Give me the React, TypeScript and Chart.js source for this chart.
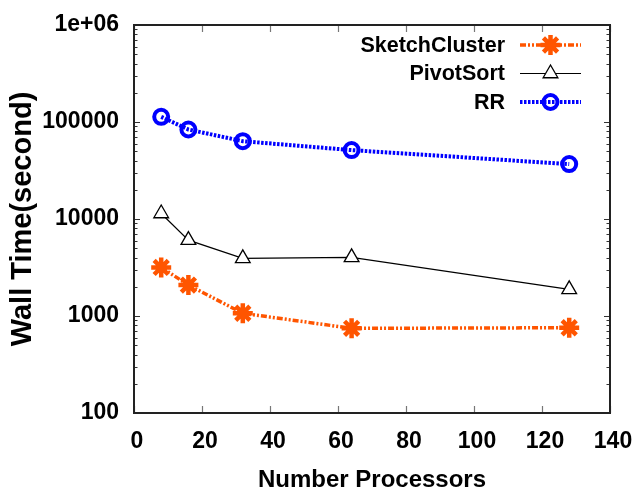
import React, { useEffect, useRef } from 'react';
import { Chart, registerables } from 'chart.js';
import { drawPoint } from 'chart.js/helpers';

Chart.register(...registerables);

const FONT = "'Liberation Sans', Arial, sans-serif";

const processors = [8, 16, 32, 64, 128];
const sketchCluster = [3170, 2085, 1067, 746, 757];
const pivotSort = [11400, 6060, 3930, 4020, 1880];
const rr = [113000, 83700, 63400, 51300, 36800];
const seriesLabels = ['SketchCluster', 'PivotSort', 'RR'];
const yTickValues = [100, 1000, 10000, 100000, 1000000];
const yTickLabels = ['100', '1000', '10000', '100000', '1e+06'];
const xTickValues = [0, 20, 40, 60, 80, 100, 120, 140];
const xTitle = 'Number Processors';
const yTitle = 'Wall Time(second)';

const framePlugin = {
  id: 'frame',
  beforeDatasetsDraw(chart: any) {
    const { ctx, chartArea: a, scales } = chart;
    const xs = scales.x;
    const ys = scales.y;
    ctx.save();
    ctx.strokeStyle = '#777';
    ctx.lineWidth = 1.2;
    for (const v of xTickValues) {
      const px = Math.round(xs.getPixelForValue(v)) + 0.5;
      ctx.beginPath();
      ctx.moveTo(px, a.bottom);
      ctx.lineTo(px, a.bottom - 7);
      ctx.moveTo(px, a.top);
      ctx.lineTo(px, a.top + 7);
      ctx.stroke();
    }
    ctx.strokeStyle = '#333';
    ctx.lineWidth = 1.2;
    const drawY = (v: number, len: number) => {
      const py = Math.round(ys.getPixelForValue(v)) + 0.5;
      ctx.beginPath();
      ctx.moveTo(a.left, py);
      ctx.lineTo(a.left + len, py);
      ctx.moveTo(a.right, py);
      ctx.lineTo(a.right - len, py);
      ctx.stroke();
    };
    yTickValues.forEach((base, i) => {
      drawY(base, 6);
      if (i < yTickValues.length - 1) {
        for (let m = 2; m <= 9; m++) drawY(base * m, 3.5);
      }
    });
    ctx.strokeStyle = '#222';
    ctx.lineWidth = 2;
    ctx.strokeRect(a.left, a.top, a.right - a.left, a.bottom - a.top);
    ctx.restore();
  },
};

const legendPlugin = {
  id: 'customLegend',
  afterDatasetsDraw(chart: any) {
    const { ctx, chartArea: a } = chart;
    ctx.save();
    chart.data.datasets.forEach((ds: any, i: number) => {
      const y = a.top + 20 + i * 28.5;
      const textRight = a.right - 105;
      const x0 = a.right - 90;
      const x1 = a.right - 29;
      ctx.font = `bold 21.5px ${FONT}`;
      ctx.fillStyle = '#000';
      ctx.textAlign = 'right';
      ctx.textBaseline = 'middle';
      ctx.fillText(ds.label, textRight, y + 1);
      ctx.strokeStyle = ds.borderColor;
      ctx.lineWidth = ds.borderWidth;
      ctx.setLineDash(ds.borderDash || []);
      ctx.beginPath();
      ctx.moveTo(x0, y);
      ctx.lineTo(x1, y);
      ctx.stroke();
      ctx.setLineDash([]);
      ctx.fillStyle = ds.pointBackgroundColor;
      ctx.strokeStyle = ds.pointBorderColor;
      ctx.lineWidth = ds.pointBorderWidth;
      drawPoint(ctx, { pointStyle: ds.pointStyle, radius: ds.pointRadius, rotation: 0, borderWidth: ds.pointBorderWidth }, (x0 + x1) / 2, y);
    });
    ctx.restore();
  },
};

export default function App() {
  const ref = useRef<HTMLCanvasElement>(null);
  useEffect(() => {
    if (!ref.current) return;
    Chart.defaults.font.family = FONT;
    const chart = new Chart(ref.current, {
      type: 'line',
      data: {
        datasets: [
          {
            label: seriesLabels[0],
            data: processors.map((p, i) => ({ x: p, y: sketchCluster[i] })),
            borderColor: '#ff5500',
            borderWidth: 3.5,
            borderDash: [6, 2, 2, 2, 2, 2],
            pointStyle: 'star',
            pointRadius: 10,
            pointBorderWidth: 4.5,
            pointBorderColor: '#ff5500',
            pointBackgroundColor: '#ff5500',
            fill: false,
            tension: 0,
          },
          {
            label: seriesLabels[1],
            data: processors.map((p, i) => ({ x: p, y: pivotSort[i] })),
            borderColor: '#000',
            borderWidth: 1.2,
            pointStyle: 'triangle',
            pointRadius: 8.5,
            pointBorderWidth: 1.3,
            pointBorderColor: '#000',
            pointBackgroundColor: '#fff',
            fill: false,
            tension: 0,
          },
          {
            label: seriesLabels[2],
            data: processors.map((p, i) => ({ x: p, y: rr[i] })),
            borderColor: '#0000ff',
            borderWidth: 4,
            borderDash: [2.5, 1.5],
            pointStyle: 'circle',
            pointRadius: 7,
            pointBorderWidth: 4,
            pointBorderColor: '#0000ff',
            pointBackgroundColor: 'rgba(0,0,0,0)',
            fill: false,
            tension: 0,
          },
        ],
      } as any,
      options: {
        animation: false,
        responsive: false,
        devicePixelRatio: 1,
        layout: { padding: { left: 0, top: 25, right: 26, bottom: 0 } },
        plugins: { legend: { display: false }, tooltip: { enabled: false } },
        scales: {
          x: {
            type: 'linear',
            min: 0,
            max: 140,
            afterBuildTicks: (s: any) => {
              s.ticks = xTickValues.map((v) => ({ value: v }));
            },
            ticks: {
              padding: 15,
              labelOffset: 3,
              color: '#000',
              font: { family: FONT, size: 23, weight: 'bold' },
              maxRotation: 0,
              autoSkip: false,
            },
            grid: { display: false, drawTicks: false },
            border: { display: false },
            title: {
              display: true,
              text: xTitle,
              color: '#000',
              font: { family: FONT, size: 24, weight: 'bold' },
              padding: { top: 0, bottom: 1 },
            },
            afterFit: (s: any) => {
              s.height = 83;
              s.paddingLeft = 0;
              s.paddingRight = 0;
            },
          },
          y: {
            type: 'logarithmic',
            min: 100,
            max: 1000000,
            afterBuildTicks: (s: any) => {
              s.ticks = yTickValues.map((v) => ({ value: v }));
            },
            ticks: {
              padding: 15,
              color: '#000',
              font: { family: FONT, size: 23, weight: 'bold' },
              autoSkip: false,
              callback: (_v: any, i: number) => yTickLabels[i],
            },
            grid: { display: false, drawTicks: false },
            border: { display: false },
            title: {
              display: true,
              text: yTitle,
              color: '#000',
              font: { family: FONT, size: 29, weight: 'bold' },
              padding: { top: 6, bottom: 0 },
            },
            afterFit: (s: any) => {
              s.width = 134;
              s.paddingTop = 0;
              s.paddingBottom = 0;
            },
          },
        },
      } as any,
      plugins: [framePlugin, legendPlugin],
    });
    return () => chart.destroy();
  }, []);
  return (
    <div style={{ position: 'fixed', left: 0, top: 0, width: 636, height: 496, background: '#fff' }}>
      <canvas ref={ref} width={636} height={496} style={{ display: 'block' }} />
    </div>
  );
}
